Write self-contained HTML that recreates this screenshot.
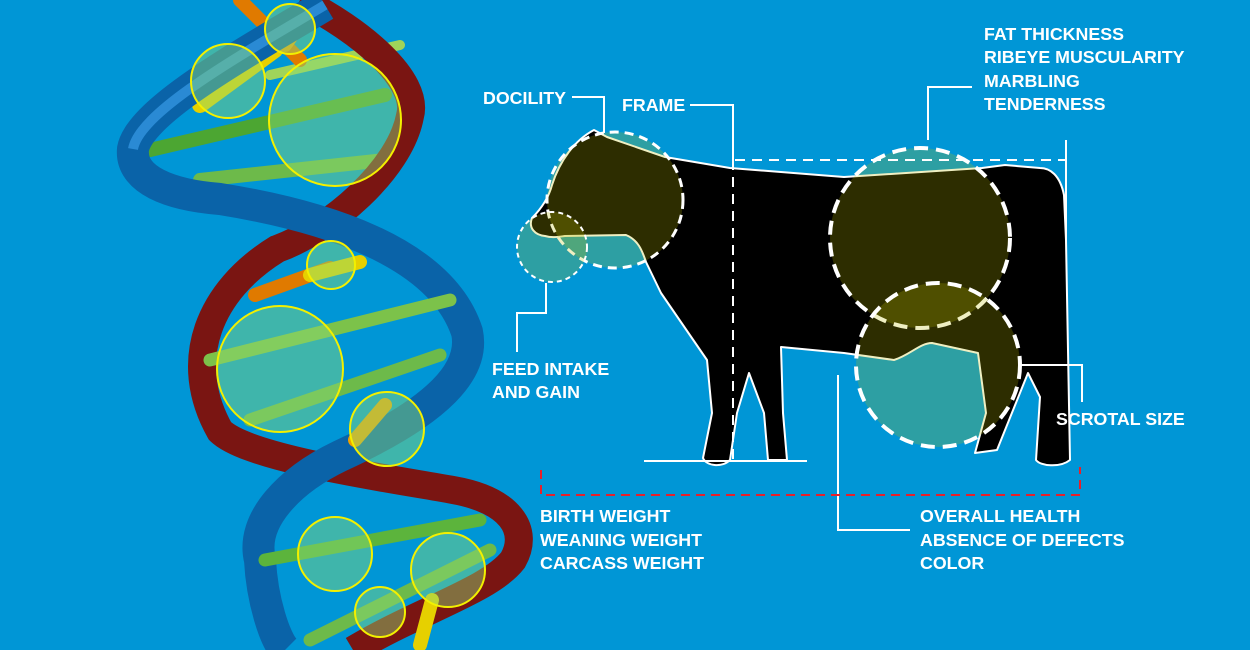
<!DOCTYPE html>
<html><head><meta charset="utf-8"><style>
html,body{margin:0;padding:0;background:#0096d6;}
svg{display:block}
text{font-family:"Liberation Sans",Arial,sans-serif;font-weight:bold;font-size:17.8px;fill:#fff;}
</style></head><body>
<svg width="1250" height="650" viewBox="0 0 1250 650" xmlns="http://www.w3.org/2000/svg">
<rect width="1250" height="650" fill="#0096d6"/>
<!-- DNA -->
<g stroke-linecap="round" fill="none">
<path d="M150,150 L385,95" stroke="#4ca632" stroke-width="14"/>
<path d="M270,75 L400,45" stroke="#9fd45a" stroke-width="10"/>
<path d="M200,180 L385,160" stroke="#6dba4a" stroke-width="14"/>
<path d="M240,0 L300,60" stroke="#e07a00" stroke-width="14"/>
<path d="M200,105 L275,50" stroke="#e6d000" stroke-width="16"/>
<path d="M285,45 L310,10" stroke="#f0a000" stroke-width="14"/>
</g>
<path d="M300,0 C360,30 420,80 410,116 C400,170 330,230 277,249 C210,290 180,360 220,431 C250,460 400,480 453,490 C510,500 530,530 513,560 C490,590 420,610 353,650" stroke="#7a1512" stroke-width="28" fill="none"/>
<path d="M325,5 C250,50 140,110 133,149 C130,180 170,195 220,199 C320,215 440,250 467,332 C475,370 440,410 340,456 C290,480 250,520 260,560 C262,600 275,640 285,650" stroke="#0a63a8" stroke-width="32" fill="none"/>
<path d="M325,5 C250,50 140,110 133,149" stroke="#2a8ad4" stroke-width="10" fill="none"/>
<g stroke-linecap="round" fill="none">
<path d="M255,295 L330,268" stroke="#e07a00" stroke-width="14"/>
<path d="M310,275 L360,262" stroke="#e6d000" stroke-width="14"/>
<path d="M210,360 L450,300" stroke="#7cc24a" stroke-width="13"/>
<path d="M250,420 L440,355" stroke="#6dba4a" stroke-width="13"/>
<path d="M355,440 L385,405" stroke="#f0a000" stroke-width="14"/>
<path d="M265,560 L480,520" stroke="#5cb43c" stroke-width="13"/>
<path d="M310,640 L490,550" stroke="#6dba4a" stroke-width="13"/>
<path d="M420,645 L432,600" stroke="#e6d000" stroke-width="14"/>
</g>
<g fill="rgba(140,220,120,0.45)" stroke="#f3f000" stroke-width="2">
<circle cx="290" cy="29" r="25"/><circle cx="228" cy="81" r="37"/><circle cx="335" cy="120" r="66"/>
<circle cx="331" cy="265" r="24"/><circle cx="280" cy="369" r="63"/><circle cx="387" cy="429" r="37"/>
<circle cx="335" cy="554" r="37"/><circle cx="448" cy="570" r="37"/><circle cx="380" cy="612" r="25"/>
</g>
<!-- cow -->
<path d="M594,130 C575,140 560,160 552,185 C548,200 540,210 532,218 C528,228 535,235 545,236 C552,238 557,237 565,236 L626,235 C638,240 642,250 646,262 L661,293 L707,360 L712,413 L703,458 C706,466 722,468 730,460 L737,413 L749,373 L764,413 L768,460 L787,460 L783,413 L781,347 L844,353 L894,360 C910,355 920,343 932,343 L978,353 L986,413 L975,453 L997,450 L1028,373 L1040,397 L1036,460 C1040,466 1060,468 1070,460 L1066,240 L1064,195 C1060,175 1050,168 1040,168 L1005,165 L982,168 L844,177 L730,168 L665,157 L607,137 Z" fill="#000" stroke="#fff" stroke-width="2" stroke-linejoin="round"/>
<g fill="rgba(190,190,0,0.24)" stroke="#fff" stroke-dasharray="9,6">
<circle cx="615" cy="200" r="68" stroke-width="3"/>
<circle cx="552" cy="247" r="35" stroke-width="2" stroke-dasharray="5,4"/>
<circle cx="920" cy="238" r="90" stroke-width="4" stroke-dasharray="14,8"/>
<circle cx="938" cy="365" r="82" stroke-width="4" stroke-dasharray="14,8"/>
</g>
<g stroke="#fff" stroke-width="2" fill="none">
<path d="M572,97 H604 V133"/>
<path d="M690,105 H733 V160"/>
<path d="M733,160 V465" stroke-dasharray="10,7"/>
<path d="M735,160 H1066" stroke-dasharray="10,7"/>
<path d="M928,140 V87 H972"/>
<path d="M1066,140 V240"/>
<path d="M546,283 V313 H517 V352"/>
<path d="M1020,365 H1082 V402"/>
<path d="M644,461 H807"/>
<path d="M838,375 V530 H910"/>
</g>
<path d="M541,470 V495 H1080 V467" stroke="#e8202a" stroke-width="2" fill="none" stroke-dasharray="9,6"/>
<text x="483" y="104">DOCILITY</text>
<text x="622" y="111">FRAME</text>
<text x="984" y="40">FAT THICKNESS</text>
<text x="984" y="63">RIBEYE MUSCULARITY</text>
<text x="984" y="87">MARBLING</text>
<text x="984" y="110">TENDERNESS</text>
<text x="492" y="375">FEED INTAKE</text>
<text x="492" y="398">AND GAIN</text>
<text x="1056" y="425">SCROTAL SIZE</text>
<text x="540" y="522">BIRTH WEIGHT</text>
<text x="540" y="546">WEANING WEIGHT</text>
<text x="540" y="569">CARCASS WEIGHT</text>
<text x="920" y="522">OVERALL HEALTH</text>
<text x="920" y="546">ABSENCE OF DEFECTS</text>
<text x="920" y="569">COLOR</text>
</svg>
</body></html>
